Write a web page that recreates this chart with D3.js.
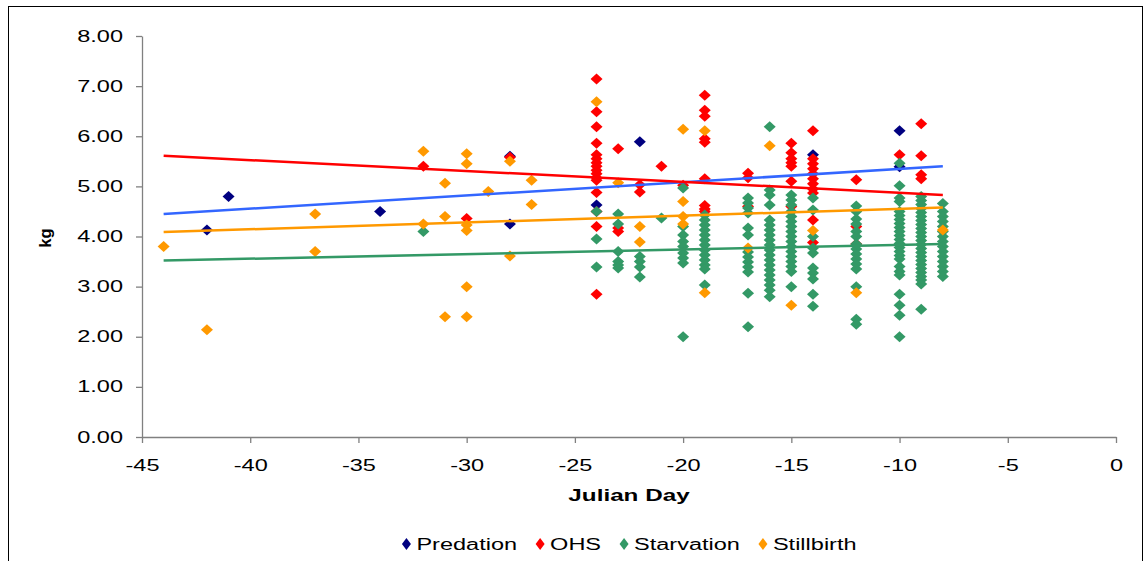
<!DOCTYPE html>
<html>
<head>
<meta charset="utf-8">
<script src="https://cdn.jsdelivr.net/npm/d3@7"></script>
<style>
  body { margin: 0; background: #fff; }
  text { font-family: "Liberation Sans", Arial, sans-serif; fill: #000; }
</style>
</head>
<body>
<div id="chart"></div>
<script>
////////
// Data: [Julian day, kg]
let predation = [
  [-42, 4.13], [-41, 4.80], [-34, 4.50], [-28, 5.60], [-28, 4.25],
  [-24, 4.63], [-22, 5.89], [-14, 5.63], [-10, 6.11], [-10, 5.39]
];

let ohs = [
  [-32, 5.40], [-30, 4.36], [-28, 5.58],
  [-24, 7.14], [-24, 6.49], [-24, 6.19], [-24, 5.86], [-24, 5.63], [-24, 5.55],
  [-24, 5.47], [-24, 5.40], [-24, 5.32], [-24, 5.25], [-24, 5.17], [-24, 5.12],
  [-24, 4.88], [-24, 4.50], [-24, 4.20], [-24, 2.85],
  [-23, 5.75], [-23, 4.17], [-23, 4.10],
  [-22, 5.03], [-22, 4.89], [-21, 5.40], [-20, 5.02],
  [-19, 6.82], [-19, 6.52], [-19, 6.40], [-19, 5.95], [-19, 5.88], [-19, 5.15],
  [-19, 4.62], [-19, 4.55], [-19, 4.50],
  [-17, 5.26], [-17, 5.17], [-17, 4.60],
  [-15, 5.86], [-15, 5.67], [-15, 5.55], [-15, 5.47], [-15, 5.40], [-15, 5.10], [-15, 4.60],
  [-14, 6.11], [-14, 5.55], [-14, 5.45], [-14, 5.35], [-14, 5.25], [-14, 5.15],
  [-14, 5.05], [-14, 4.95], [-14, 4.87], [-14, 4.33], [-14, 3.88],
  [-12, 5.13], [-12, 4.20], [-12, 3.85],
  [-10, 5.63], [-9, 6.25], [-9, 5.61], [-9, 5.23], [-9, 5.15]
];

let starvation = [
  [-32, 4.10],
  [-24, 4.50], [-24, 3.95], [-24, 3.39],
  [-23, 4.45], [-23, 4.25], [-23, 3.70], [-23, 3.50], [-23, 3.43], [-23, 3.37],
  [-22, 3.60], [-22, 3.50], [-22, 3.39], [-22, 3.19],
  [-21, 4.37],
  [-20, 4.97], [-20, 4.20], [-20, 4.03], [-20, 3.90], [-20, 3.80], [-20, 3.67],
  [-20, 3.57], [-20, 3.47], [-20, 2.00],
  [-19, 4.43], [-19, 4.33], [-19, 4.23], [-19, 4.13], [-19, 4.03], [-19, 3.93],
  [-19, 3.83], [-19, 3.73], [-19, 3.63], [-19, 3.53], [-19, 3.43], [-19, 3.35], [-19, 3.03],
  [-17, 4.77], [-17, 4.67], [-17, 4.57], [-17, 4.47], [-17, 4.17], [-17, 4.03],
  [-17, 3.69], [-17, 3.59], [-17, 3.49], [-17, 3.39], [-17, 3.29], [-17, 2.87], [-17, 2.20],
  [-16, 6.19], [-16, 4.93], [-16, 4.83], [-16, 4.63], [-16, 4.33], [-16, 4.23],
  [-16, 4.13], [-16, 4.03], [-16, 3.93], [-16, 3.83], [-16, 3.73], [-16, 3.63],
  [-16, 3.53], [-16, 3.43], [-16, 3.33], [-16, 3.23], [-16, 3.13], [-16, 3.03],
  [-16, 2.93], [-16, 2.80],
  [-15, 4.83], [-15, 4.73], [-15, 4.63], [-15, 4.50], [-15, 4.40], [-15, 4.30],
  [-15, 4.20], [-15, 4.10], [-15, 4.00], [-15, 3.90], [-15, 3.80], [-15, 3.70],
  [-15, 3.60], [-15, 3.50], [-15, 3.40], [-15, 3.30], [-15, 3.00],
  [-14, 4.77], [-14, 4.53], [-14, 4.00], [-14, 3.77], [-14, 3.67], [-14, 3.37],
  [-14, 3.27], [-14, 3.15], [-14, 2.85], [-14, 2.61],
  [-12, 4.61], [-12, 4.50], [-12, 4.35], [-12, 4.25], [-12, 4.10], [-12, 4.00],
  [-12, 3.85], [-12, 3.75], [-12, 3.65], [-12, 3.55], [-12, 3.45], [-12, 3.35],
  [-12, 3.00], [-12, 2.35], [-12, 2.25],
  [-10, 5.46], [-10, 5.01], [-10, 4.77], [-10, 4.70], [-10, 4.50], [-10, 4.42],
  [-10, 4.34], [-10, 4.26], [-10, 4.18], [-10, 4.10], [-10, 4.02], [-10, 3.94],
  [-10, 3.86], [-10, 3.78], [-10, 3.70], [-10, 3.62], [-10, 3.55], [-10, 3.40],
  [-10, 3.30], [-10, 3.23], [-10, 2.85], [-10, 2.63], [-10, 2.43], [-10, 2.00],
  [-9, 4.80], [-9, 4.72], [-9, 4.64], [-9, 4.56], [-9, 4.48], [-9, 4.40],
  [-9, 4.32], [-9, 4.24], [-9, 4.16], [-9, 4.08], [-9, 4.00], [-9, 3.92],
  [-9, 3.84], [-9, 3.76], [-9, 3.68], [-9, 3.60], [-9, 3.52], [-9, 3.44],
  [-9, 3.36], [-9, 3.28], [-9, 3.20], [-9, 3.13], [-9, 3.05], [-9, 2.55],
  [-8, 4.66], [-8, 4.50], [-8, 4.40], [-8, 4.30], [-8, 4.20], [-8, 4.10],
  [-8, 4.00], [-8, 3.90], [-8, 3.80], [-8, 3.70], [-8, 3.60], [-8, 3.50],
  [-8, 3.40], [-8, 3.30], [-8, 3.20]
];

let stillbirth = [
  [-44, 3.80], [-42, 2.14], [-37, 4.45], [-37, 3.70],
  [-32, 5.70], [-32, 4.25], [-31, 5.06], [-31, 4.40], [-31, 2.40],
  [-30, 5.65], [-30, 5.45], [-30, 4.23], [-30, 4.12], [-30, 3.00], [-30, 2.40],
  [-29, 4.90], [-28, 5.50], [-28, 3.61], [-27, 5.12], [-27, 4.64],
  [-24, 6.69], [-23, 5.07], [-22, 4.20], [-22, 3.89],
  [-20, 6.14], [-20, 4.70], [-20, 4.40], [-20, 4.25],
  [-19, 6.11], [-19, 2.88], [-17, 3.77], [-16, 5.81], [-15, 2.63],
  [-14, 4.12], [-12, 2.88], [-8, 4.13]
];

// linear trend lines, value at first and last day
let trendDays = [-44, -8];
let trendPredation = [4.45, 5.40];
let trendOhs = [5.61, 4.83];
let trendStarvation = [3.52, 3.85];
let trendStillbirth = [4.09, 4.58];

let seriesNames = ["Predation", "OHS", "Starvation", "Stillbirth"];
let xTicks = [-45, -40, -35, -30, -25, -20, -15, -10, -5, 0];
let yTicks = [0, 1, 2, 3, 4, 5, 6, 7, 8];


////////
// Canvas
let svg_width = 1145;
let svg_height = 561;
let stretch = 1.47;   // the original text is drawn wide

let colors = ["#000080", "#ff0000", "#339966", "#ff9900"];
let lineColors = ["#3366ff", "#ff0000", "#339966", "#ff9900"];

let svg = d3.select("#chart")
  .append("svg")
  .attr("width", svg_width)
  .attr("height", svg_height);

svg.append("rect")
  .attr("x", 8.5).attr("y", 6.5)
  .attr("width", 1134).attr("height", 600)
  .attr("fill", "none")
  .attr("stroke", "#000")
  .attr("stroke-width", 1);


////////
// Scales
let xScale = d3.scaleLinear()
  .domain([-45, 0])
  .range([142, 1116]);

let yScale = d3.scaleLinear()
  .domain([0, 8])
  .range([437, 36]);


////////
// Axes
let yAxis = d3.axisLeft(yScale)
  .tickValues(yTicks)
  .tickFormat(d3.format(".2f"))
  .tickSize(6)
  .tickSizeOuter(0);

let gy = svg.append("g")
  .attr("transform", "translate(142,0)")
  .call(yAxis);
gy.selectAll("text")
  .attr("x", -19 / stretch)
  .attr("transform", `scale(${stretch},1)`)
  .style("font-size", "16px");

let xAxis = d3.axisBottom(xScale)
  .tickValues(xTicks)
  .tickFormat(d => String(d))
  .tickSize(6)
  .tickSizeOuter(0);

let gx = svg.append("g")
  .attr("transform", "translate(0,437)")
  .call(xAxis);
gx.selectAll("text")
  .attr("y", 34)
  .attr("dy", 0)
  .attr("transform", `scale(${stretch},1)`)
  .style("font-size", "16px");

svg.selectAll(".domain, .tick line")
  .attr("stroke", "#808080")
  .attr("stroke-width", 1.3);

svg.append("text")
  .attr("transform", `translate(629,501) scale(${stretch},1)`)
  .attr("text-anchor", "middle")
  .style("font-size", "16.5px")
  .style("font-weight", "bold")
  .text("Julian Day");

svg.append("text")
  .attr("transform", "translate(51,238) rotate(-90)")
  .attr("text-anchor", "middle")
  .style("font-size", "16.5px")
  .style("font-weight", "bold")
  .text("kg");


////////
// Points, diamonds, series drawn in Excel order
let diamond = (w, h) => `M0,${-h}L${w},0L0,${h}L${-w},0Z`;

let allSeries = [predation, ohs, starvation, stillbirth];
allSeries.forEach(function(data, i) {
  svg.append("g")
    .selectAll("path")
    .data(data)
    .enter()
    .append("path")
    .attr("d", diamond(6, 5.5))
    .attr("fill", colors[i])
    .attr("transform", d => `translate(${xScale(d[0])},${yScale(d[1])})`);
});


////////
// Trend lines
let line = d3.line()
  .x((d, i) => xScale(trendDays[i]))
  .y(d => yScale(d));

let allTrends = [trendPredation, trendOhs, trendStarvation, trendStillbirth];
allTrends.forEach(function(t, i) {
  svg.append("path")
    .attr("d", line(t))
    .attr("fill", "none")
    .attr("stroke", lineColors[i])
    .attr("stroke-width", 2.5);
});


////////
// Legend
let legend = svg.append("g");
let lx = 0;
seriesNames.forEach(function(name, i) {
  let g = legend.append("g").attr("transform", `translate(${lx},0)`);
  g.append("path")
    .attr("d", diamond(4.5, 6))
    .attr("fill", colors[i])
    .attr("transform", "translate(5,0)");
  let t = g.append("text")
    .attr("transform", `translate(15,6) scale(${stretch},1)`)
    .style("font-size", "16px")
    .text(name);
  lx += 15 + t.node().getComputedTextLength() * stretch + 18;
});
lx -= 18;
legend.attr("transform", `translate(${629 - lx / 2},544)`);
</script>
</body>
</html>
